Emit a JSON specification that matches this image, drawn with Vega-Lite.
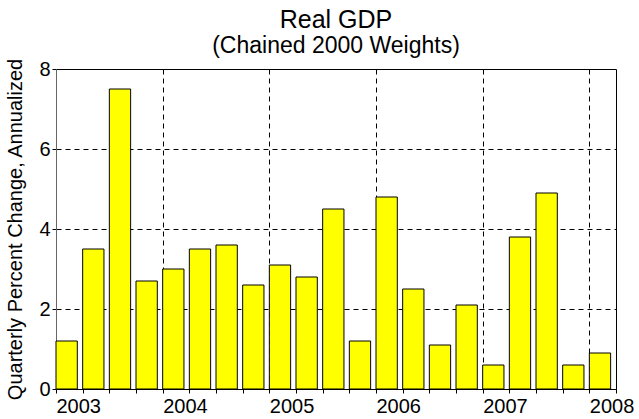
{
  "$schema": "https://vega.github.io/schema/vega-lite/v6.json",
  "autosize": {"type": "none"},
  "width": 560,
  "height": 320,
  "padding": {"left": 56, "top": 69, "right": 23, "bottom": 30},
  "background": "white",
  "config": {
    "view": {"stroke": "black", "strokeWidth": 1},
    "font": "Liberation Sans",
    "axis": {
      "labelFont": "Liberation Sans",
      "titleFont": "Liberation Sans",
      "labelColor": "black",
      "titleColor": "black",
      "tickColor": "black",
      "domainColor": "black",
      "labelFontSize": 20,
      "titleFontSize": 20,
      "titleFontWeight": "normal"
    }
  },
  "title": {
    "text": "Real GDP",
    "subtitle": "(Chained 2000 Weights)",
    "font": "Liberation Sans",
    "subtitleFont": "Liberation Sans",
    "fontSize": 25,
    "subtitleFontSize": 23,
    "fontWeight": "normal",
    "color": "black",
    "subtitleColor": "black",
    "anchor": "middle",
    "offset": 0,
    "subtitlePadding": 2
  },
  "data": {
    "values": [
      {"period": "2003 Q1", "idx": 0, "value": 1.2},
      {"period": "2003 Q2", "idx": 1, "value": 3.5},
      {"period": "2003 Q3", "idx": 2, "value": 7.5},
      {"period": "2003 Q4", "idx": 3, "value": 2.7},
      {"period": "2004 Q1", "idx": 4, "value": 3.0},
      {"period": "2004 Q2", "idx": 5, "value": 3.5},
      {"period": "2004 Q3", "idx": 6, "value": 3.6},
      {"period": "2004 Q4", "idx": 7, "value": 2.6},
      {"period": "2005 Q1", "idx": 8, "value": 3.1},
      {"period": "2005 Q2", "idx": 9, "value": 2.8},
      {"period": "2005 Q3", "idx": 10, "value": 4.5},
      {"period": "2005 Q4", "idx": 11, "value": 1.2},
      {"period": "2006 Q1", "idx": 12, "value": 4.8},
      {"period": "2006 Q2", "idx": 13, "value": 2.5},
      {"period": "2006 Q3", "idx": 14, "value": 1.1},
      {"period": "2006 Q4", "idx": 15, "value": 2.1},
      {"period": "2007 Q1", "idx": 16, "value": 0.6},
      {"period": "2007 Q2", "idx": 17, "value": 3.8},
      {"period": "2007 Q3", "idx": 18, "value": 4.9},
      {"period": "2007 Q4", "idx": 19, "value": 0.6},
      {"period": "2008 Q1", "idx": 20, "value": 0.9}
    ]
  },
  "mark": {
    "type": "bar",
    "fill": "#FFFF00",
    "stroke": "black",
    "strokeWidth": 1,
    "width": 21.3,
    "xOffset": 10.65
  },
  "encoding": {
    "x": {
      "field": "idx",
      "type": "quantitative",
      "scale": {"domain": [0, 21], "nice": false, "zero": false, "padding": 0},
      "axis": {
        "title": null,
        "values": [0,1,2,3,4,5,6,7,8,9,10,11,12,13,14,15,16,17,18,19,20,21],
        "labelExpr": "datum.value % 4 == 0 ? toString(2003 + datum.value / 4) : ''",
        "labelAlign": "left",
        "labelOverlap": false,
        "labelFlush": false,
        "labelPadding": 3,
        "tickSize": 4,
        "grid": true,
        "gridColor": "black",
        "gridDash": [5, 4],
        "gridWidth": 1,
        "gridOpacity": {"condition": {"test": "datum.value % 4 == 0 && datum.value > 0 && datum.value < 21", "value": 1}, "value": 0}
      }
    },
    "y": {
      "field": "value",
      "type": "quantitative",
      "scale": {"domain": [0, 8], "nice": false},
      "axis": {
        "title": "Quarterly Percent Change, Annualized",
        "values": [0, 2, 4, 6, 8],
        "tickSize": 4,
        "labelPadding": 2,
        "titlePadding": 13,
        "domainColor": "#666666",
        "grid": true,
        "gridColor": "black",
        "gridDash": [5, 4],
        "gridWidth": 1,
        "gridOpacity": {"condition": {"test": "datum.value > 0 && datum.value < 8", "value": 1}, "value": 0}
      }
    }
  }
}
